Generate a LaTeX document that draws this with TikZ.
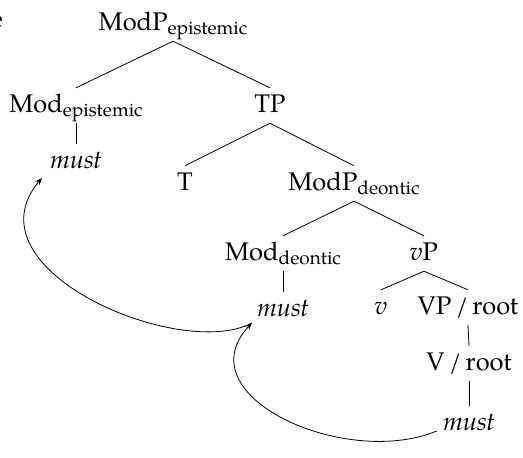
\documentclass[tikz,border=0pt]{standalone}
\usepackage{fontspec}
\setmainfont{TeX Gyre Pagella}
\usetikzlibrary{arrows.meta,calc}
\newcommand\subx[1]{\raisebox{-4pt}{\fontsize{19}{20}\selectfont #1}}
\begin{document}
\begin{tikzpicture}[x=1pt,y=-1pt,
  lab/.style={anchor=base, inner sep=0pt, text height=24pt, text depth=11pt,
              font=\fontsize{25.5}{30}\selectfont},
  edge/.style={line width=0.8pt},
  mv/.style={line width=0.8pt, -{Stealth[length=7pt,width=5.5pt]}}]
\useasboundingbox (0,0) rectangle (523,458);
\begin{scope}
\clip (0,0) rectangle (523,458);
\node[lab, anchor=base east] (frag) at (3,27) {e};
\end{scope}
% nodes
\node[lab] (ModPe) at (173,30) {ModP\subx{epistemic}};
\node[lab] (Mode) at (76,112) {Mod\subx{epistemic}};
\node[lab] (TP) at (270,112) {TP};
\node[lab] (muste) at (76,168) {\textit{must}};
\node[lab] (T) at (185,190) {T};
\node[lab] (ModPd) at (354,190) {ModP\subx{deontic}};
\node[lab] (Modd) at (283,260) {Mod\subx{deontic}};
\node[lab] (vP) at (424,260) {\textit{v}P};
\node[lab] (mustd) at (283,316) {\textit{must}};
\node[lab] (v) at (381,314) {\textit{v}};
\node[lab] (VProot) at (468,314) {VP\,/\,root};
\node[lab] (Vroot) at (469,370) {V\,/\,root};
\node[lab] (mustb) at (469,430) {\textit{must}};
% tree edges
\draw[edge] (ModPe.south) -- (Mode.north);
\draw[edge] (ModPe.south) -- (TP.north);
\draw[edge] (Mode.south) -- (muste.north);
\draw[edge] (TP.south) -- (T.north);
\draw[edge] (TP.south) -- (ModPd.north);
\draw[edge] (ModPd.south) -- (Modd.north);
\draw[edge] (ModPd.south) -- (vP.north);
\draw[edge] (Modd.south) -- (mustd.north);
\draw[edge] (vP.south) -- (v.north);
\draw[edge] (vP.south) -- (VProot.north);
\draw[edge] (VProot.south) -- (Vroot.north);
\draw[edge] (Vroot.south) -- (mustb.north);
% movement arrows
\coordinate (pd) at ($(mustd.base west)+(-5,7)$);
\coordinate (pe) at ($(muste.base west)+(-8,10)$);
\coordinate (pb) at ($(mustb.base west)+(-6,1)$);
\draw[mv] (pb) .. controls +(-92,38) and +(-68,73) .. (pd);
\draw[mv] (pd) .. controls +(-71,38) and +(-77,92) .. (pe);
\end{tikzpicture}
\end{document}
